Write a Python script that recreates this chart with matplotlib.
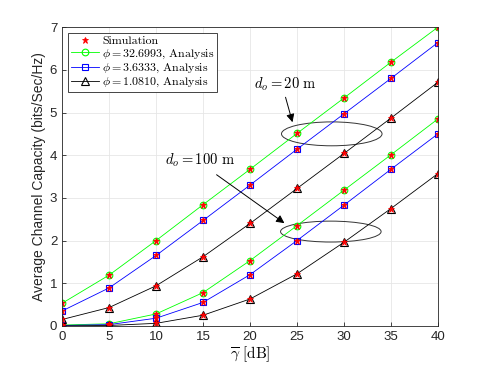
import matplotlib
matplotlib.use("Agg")
import matplotlib.pyplot as plt
from matplotlib.patches import Ellipse
import numpy as np

plt.rcParams['mathtext.fontset'] = 'cm'
plt.rcParams['font.family'] = ['Liberation Sans', 'DejaVu Sans']

snr_db = [0, 5, 10, 15, 20, 25, 30, 35, 40]

# d_o = 20 m
green_20 = [0.53, 1.19, 2.00, 2.84, 3.67, 4.51, 5.34, 6.18, 7.00]
blue_20 = [0.35, 0.89, 1.65, 2.47, 3.30, 4.14, 4.97, 5.80, 6.64]
black_20 = [0.15, 0.43, 0.94, 1.62, 2.40, 3.22, 4.04, 4.87, 5.71]
# d_o = 100 m
green_100 = [0.02, 0.05, 0.28, 0.78, 1.53, 2.35, 3.18, 4.01, 4.85]
blue_100 = [0.01, 0.03, 0.18, 0.55, 1.20, 2.00, 2.83, 3.67, 4.50]
black_100 = [0.00, 0.01, 0.06, 0.25, 0.63, 1.22, 1.96, 2.75, 3.57]

labels = [r'$\phi = 32.6993$, Analysis', r'$\phi = 3.6333$, Analysis', r'$\phi = 1.0810$, Analysis']
x_ticks = [0, 5, 10, 15, 20, 25, 30, 35, 40]
y_ticks = [0, 1, 2, 3, 4, 5, 6, 7]

fig = plt.figure(figsize=(4.85, 3.67), dpi=100)
ax = fig.add_axes([0.128, 0.112, 0.775, 0.814])

styles = [('#00ff00', 'o', 4.8), ('#0000ff', 's', 4.2), ('black', '^', 5.2)]
series = [(green_20, green_100), (blue_20, blue_100), (black_20, black_100)]
lw = 0.6
handles = []
for (c, m, ms), (s20, s100), lab in zip(styles, series, labels):
    h, = ax.plot(snr_db, s20, color=c, marker=m, mfc='none', mec=c, ms=ms, lw=lw, mew=0.8, label=lab)
    ax.plot(snr_db, s100, color=c, marker=m, mfc='none', mec=c, ms=ms, lw=lw, mew=0.8)
    handles.append(h)

sim = None
for s20, s100 in series:
    for s in (s20, s100):
        sim, = ax.plot(snr_db, s, linestyle='none', marker='*', color='red', ms=5, mew=0.6, label='Simulation')

ax.set_xlim(0, 40)
ax.set_ylim(0, 7)
ax.set_xticks(x_ticks)
ax.set_yticks(y_ticks)
ax.tick_params(direction='in', labelsize=9.5, length=3, colors='#262626', width=0.6)
ax.grid(True, color='#e6e6e6', lw=0.6)
ax.set_axisbelow(True)
for sp in ax.spines.values():
    sp.set_color('#262626')
    sp.set_linewidth(0.6)

ax.set_xlabel(r'$\overline{\gamma}\ [\mathrm{dB}]$', fontsize=11, labelpad=1)
ax.set_ylabel('Average Channel Capacity (bits/Sec/Hz)', fontsize=10, color='#262626', labelpad=3)

leg = ax.legend([sim] + handles, ['Simulation'] + labels, loc='upper left',
                prop={'family': ['cmr10'], 'size': 8.6}, fancybox=False,
                edgecolor='#262626', framealpha=1, borderpad=0.25, labelspacing=0.08,
                handlelength=2.3, handletextpad=0.3, borderaxespad=0.5)
leg.get_frame().set_linewidth(0.6)

ax.add_patch(Ellipse((28.7, 4.5), 10.7, 0.56, fill=False, ec='#333333', lw=0.7))
ax.add_patch(Ellipse((28.6, 2.21), 10.7, 0.49, fill=False, ec='#333333', lw=0.7))

ax.annotate('', xy=(24.6, 4.71), xytext=(23.7, 5.42),
            arrowprops=dict(arrowstyle='-|>', color='black', lw=0.7, mutation_scale=12))
ax.text(20.4, 5.67, r'$d_o = 20\ \mathrm{m}$', fontsize=10.5, va='center', ha='left')
ax.annotate('', xy=(23.9, 2.37), xytext=(16.2, 3.58),
            arrowprops=dict(arrowstyle='-|>', color='black', lw=0.7, mutation_scale=12))
ax.text(11.0, 3.87, r'$d_o = 100\ \mathrm{m}$', fontsize=10.5, va='center', ha='left')

fig.savefig('out.png', dpi=100)
